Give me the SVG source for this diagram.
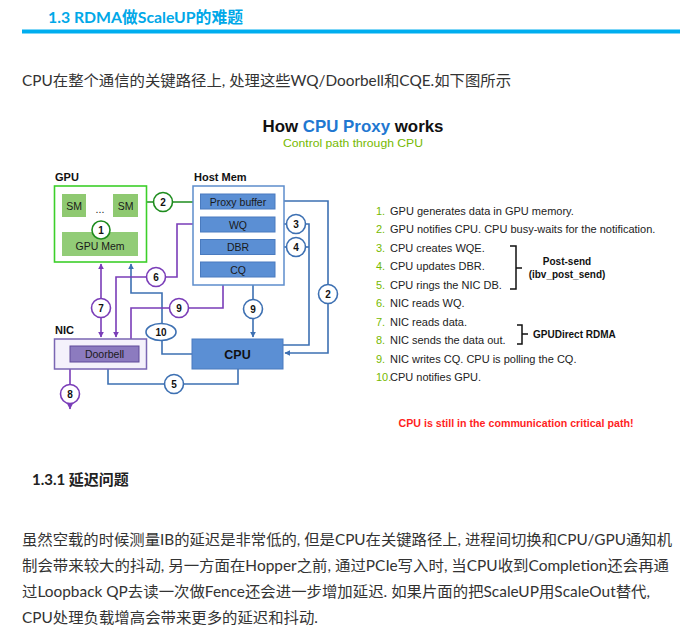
<svg xmlns="http://www.w3.org/2000/svg" width="692" height="634" viewBox="0 0 692 634">
<defs>
<style>
.doc{font-family:Lato,"Noto Sans CJK SC",sans-serif;fill:#333;font-size:15px}
.lbl{font-family:"Liberation Sans",Arial,sans-serif;font-weight:bold;font-size:11px;fill:#111}
.box{font-family:"Liberation Sans",Arial,sans-serif;font-size:10.5px;fill:#1a1a1a;text-anchor:middle}
.num{font-family:"Liberation Sans",Arial,sans-serif;font-weight:bold;font-size:10px;fill:#111;text-anchor:middle}
.leg{font-family:"Liberation Sans",Arial,sans-serif;font-size:11px;fill:#222}
.legn{font-family:"Liberation Sans",Arial,sans-serif;font-size:11px;fill:#76b900}
.hb{fill:#5b8fd4;stroke:#4a7bbf;stroke-width:1}
.cg{fill:#fff;stroke:#1e8c1e;stroke-width:1.6}
.cb{fill:#fff;stroke:#3d70b2;stroke-width:1.6}
.cp{fill:#fff;stroke:#7a3db8;stroke-width:1.6}
.lg{fill:none;stroke:#1e8c1e;stroke-width:1.6}
.lb{fill:none;stroke:#3d70b2;stroke-width:1.6}
.lp{fill:none;stroke:#7a3db8;stroke-width:1.6}
.bk{font-family:"Liberation Sans",Arial,sans-serif;font-weight:bold;font-size:10px;fill:#111}
</style>
<marker id="ag" viewBox="0 0 10 10" refX="9" refY="5" markerWidth="6" markerHeight="6" orient="auto-start-reverse" markerUnits="userSpaceOnUse"><path d="M0,0 L10,5 L0,10 z" fill="#1e8c1e"/></marker>
<marker id="ab" viewBox="0 0 10 10" refX="9" refY="5" markerWidth="6" markerHeight="6" orient="auto-start-reverse" markerUnits="userSpaceOnUse"><path d="M0,0 L10,5 L0,10 z" fill="#3d70b2"/></marker>
<marker id="ap" viewBox="0 0 10 10" refX="9" refY="5" markerWidth="6" markerHeight="6" orient="auto-start-reverse" markerUnits="userSpaceOnUse"><path d="M0,0 L10,5 L0,10 z" fill="#7a3db8"/></marker>
</defs>
<rect width="692" height="634" fill="#fff"/>

<!-- page text -->
<g id="header">
<text x="48" y="23" font-family="Lato,'Noto Sans CJK SC',sans-serif" font-weight="bold" font-size="16" fill="#00a8e8" textLength="195" lengthAdjust="spacingAndGlyphs">1.3 RDMA做ScaleUP的难题</text>
<rect x="22" y="29.5" width="658" height="4" fill="#00aeef"/>
</g>
<text class="doc" x="22" y="86" textLength="489" lengthAdjust="spacingAndGlyphs">CPU在整个通信的关键路径上, 处理这些WQ/Doorbell和CQE.如下图所示</text>

<g id="title">
<text x="353" y="132" text-anchor="middle" font-family="'Liberation Sans',Arial,sans-serif" font-weight="bold" font-size="17" fill="#111" textLength="181" lengthAdjust="spacingAndGlyphs">How <tspan fill="#1f78d1">CPU Proxy</tspan> works</text>
<text x="353" y="147" text-anchor="middle" font-family="'Liberation Sans',Arial,sans-serif" font-size="11" fill="#76b900" textLength="140" lengthAdjust="spacingAndGlyphs">Control path through CPU</text>
</g>

<!-- connectors -->
<g id="connectors">
<path class="lg" d="M138,202 H199" marker-end="url(#ag)"/>
<path class="lg" d="M74,217 V231" marker-end="url(#ag)"/>
<path class="lg" d="M126,217 V231" marker-end="url(#ag)"/>
<path class="lb" d="M277,201 H328 V353 H285" marker-start="url(#ab)" marker-end="url(#ab)"/>
<path class="lb" d="M283,345 H309 V224 H277" marker-end="url(#ab)"/>
<path class="lb" d="M309,247 H277" marker-end="url(#ab)"/>
<path class="lb" d="M253,279 V337" marker-start="url(#ab)" marker-end="url(#ab)"/>
<path class="lb" d="M192,354 H162 V293 H131 V264" marker-end="url(#ab)"/>
<path class="lb" d="M238,369 V384 H108 V364" marker-end="url(#ab)"/>
<path class="lp" d="M198,224 H177 V277 H116 V337" marker-start="url(#ap)" marker-end="url(#ap)"/>
<path class="lp" d="M101,264 V337" marker-start="url(#ap)" marker-end="url(#ap)"/>
<path class="lp" d="M131,339 V308 H223 V279" marker-end="url(#ap)"/>
<path class="lp" d="M70,369 V409" marker-end="url(#ap)"/>
</g>

<!-- nodes -->
<g id="gpu">
<text class="lbl" x="55" y="181">GPU</text>
<rect x="54.5" y="186" width="92" height="76" fill="#fff" stroke="#3ccf2a" stroke-width="1.6"/>
<g id="sm1"><rect x="62" y="194" width="24" height="23" fill="#8fc971"/><text class="box" x="74" y="209.5">SM</text></g>
<g id="sm2"><rect x="113" y="194" width="25" height="23" fill="#8fc971"/><text class="box" x="125.5" y="209.5">SM</text></g>
<text class="box" x="100" y="213">...</text>
<g id="gpumem"><rect x="62" y="232" width="76" height="24" fill="#92cc77"/><text class="box" x="100" y="250">GPU Mem</text></g>
</g>

<g id="hostmem">
<text class="lbl" x="194" y="181">Host Mem</text>
<rect x="193" y="186" width="91" height="99" fill="#fff" stroke="#5d8dcc" stroke-width="1.5"/>
<g id="proxybuf"><rect class="hb" x="200.5" y="194" width="74.5" height="15"/><text class="box" x="238" y="205.5">Proxy buffer</text></g>
<g id="wq"><rect class="hb" x="200.5" y="217" width="74.5" height="15"/><text class="box" x="238" y="228.5">WQ</text></g>
<g id="dbr"><rect class="hb" x="200.5" y="239.5" width="74.5" height="15"/><text class="box" x="238" y="251">DBR</text></g>
<g id="cq"><rect class="hb" x="200.5" y="262" width="74.5" height="15"/><text class="box" x="238" y="273.5">CQ</text></g>
</g>

<g id="nic">
<text class="lbl" x="55" y="334">NIC</text>
<rect x="54.5" y="339" width="92" height="30" fill="#f4f1fb" stroke="#7a66b3" stroke-width="1.5"/>
<g id="doorbell"><rect x="70" y="346" width="69" height="16" fill="#8c7bbf" stroke="#5e4b99" stroke-width="1"/><text class="box" x="104.5" y="358">Doorbell</text></g>
</g>

<g id="cpu">
<rect x="192" y="339" width="91" height="30" fill="#5b8fd4" stroke="#4a7bbf" stroke-width="1"/>
<text x="237.5" y="359" text-anchor="middle" font-family="'Liberation Sans',Arial,sans-serif" font-weight="bold" font-size="12.5" fill="#111">CPU</text>
</g>

<!-- step markers -->
<g id="step-markers">
<g id="s1"><circle class="cg" cx="101" cy="230" r="9"/><text class="num" x="101" y="233.5">1</text></g>
<g id="s2a"><circle class="cg" cx="163" cy="202" r="9.5"/><text class="num" x="163" y="205.5">2</text></g>
<g id="s2b"><circle class="cb" cx="328" cy="294" r="9.5"/><text class="num" x="328" y="297.5">2</text></g>
<g id="s3"><circle class="cb" cx="296" cy="224" r="9.5"/><text class="num" x="296" y="227.5">3</text></g>
<g id="s4"><circle class="cb" cx="296" cy="247" r="9.5"/><text class="num" x="296" y="250.5">4</text></g>
<g id="s5"><circle class="cb" cx="174" cy="384" r="9.5"/><text class="num" x="174" y="387.5">5</text></g>
<g id="s6"><circle class="cp" cx="156" cy="277" r="9.5"/><text class="num" x="156" y="280.5">6</text></g>
<g id="s7"><circle class="cp" cx="101" cy="308" r="9.5"/><text class="num" x="101" y="311.5">7</text></g>
<g id="s8"><circle class="cp" cx="70" cy="394" r="9.5"/><text class="num" x="70" y="397.5">8</text></g>
<g id="s9a"><circle class="cp" cx="179" cy="308" r="9.5"/><text class="num" x="179" y="311.5">9</text></g>
<g id="s9b"><circle class="cb" cx="253" cy="309" r="9.5"/><text class="num" x="253" y="312.5">9</text></g>
<g id="s10"><ellipse class="cb" cx="161" cy="332" rx="15" ry="8.5"/><text class="num" x="161" y="335.5">10</text></g>
</g>

<!-- legend -->
<g id="legend">
<text class="legn" x="376" y="214.5">1.</text><text class="leg" x="390" y="214.5">GPU generates data in GPU memory.</text>
<text class="legn" x="376" y="233">2.</text><text class="leg" x="390" y="233">GPU notifies CPU. CPU busy-waits for the notification.</text>
<text class="legn" x="376" y="251.5">3.</text><text class="leg" x="390" y="251.5">CPU creates WQE.</text>
<text class="legn" x="376" y="270">4.</text><text class="leg" x="390" y="270">CPU updates DBR.</text>
<text class="legn" x="376" y="288.5">5.</text><text class="leg" x="390" y="288.5">CPU rings the NIC DB.</text>
<text class="legn" x="376" y="307">6.</text><text class="leg" x="390" y="307">NIC reads WQ.</text>
<text class="legn" x="376" y="325.5">7.</text><text class="leg" x="390" y="325.5">NIC reads data.</text>
<text class="legn" x="376" y="344">8.</text><text class="leg" x="390" y="344">NIC sends the data out.</text>
<text class="legn" x="376" y="362.5">9.</text><text class="leg" x="390" y="362.5">NIC writes CQ. CPU is polling the CQ.</text>
<text class="legn" x="376" y="381">10.</text><text class="leg" x="390" y="381">CPU notifies GPU.</text>
<path d="M510,246 H516 V289 H510 M516,268 H522" fill="none" stroke="#111" stroke-width="1.5"/>
<text class="bk" x="567" y="264.5" text-anchor="middle">Post-send</text>
<text class="bk" x="567" y="277.5" text-anchor="middle">(ibv_post_send)</text>
<path d="M517,325 H522 V344 H517 M522,334 H528" fill="none" stroke="#111" stroke-width="1.5"/>
<text class="bk" x="533" y="337.5">GPUDirect RDMA</text>
<text x="516" y="427" text-anchor="middle" font-family="'Liberation Sans',Arial,sans-serif" font-weight="bold" font-size="10.5" fill="#ff1f1f" textLength="235" lengthAdjust="spacingAndGlyphs">CPU is still in the communication critical path!</text>
</g>

<!-- section text -->
<text x="32" y="485" font-family="Lato,'Noto Sans CJK SC',sans-serif" font-weight="bold" font-size="15" fill="#222">1.3.1 延迟问题</text>
<text class="doc" x="22" y="545" textLength="650" lengthAdjust="spacingAndGlyphs">虽然空载的时候测量IB的延迟是非常低的, 但是CPU在关键路径上, 进程间切换和CPU/GPU通知机</text>
<text class="doc" x="22" y="571" textLength="647" lengthAdjust="spacingAndGlyphs">制会带来较大的抖动, 另一方面在Hopper之前, 通过PCIe写入时, 当CPU收到Completion还会再通</text>
<text class="doc" x="22" y="597" textLength="628" lengthAdjust="spacingAndGlyphs">过Loopback QP去读一次做Fence还会进一步增加延迟. 如果片面的把ScaleUP用ScaleOut替代,</text>
<text class="doc" x="22" y="623" textLength="296" lengthAdjust="spacingAndGlyphs">CPU处理负载增高会带来更多的延迟和抖动.</text>
</svg>
